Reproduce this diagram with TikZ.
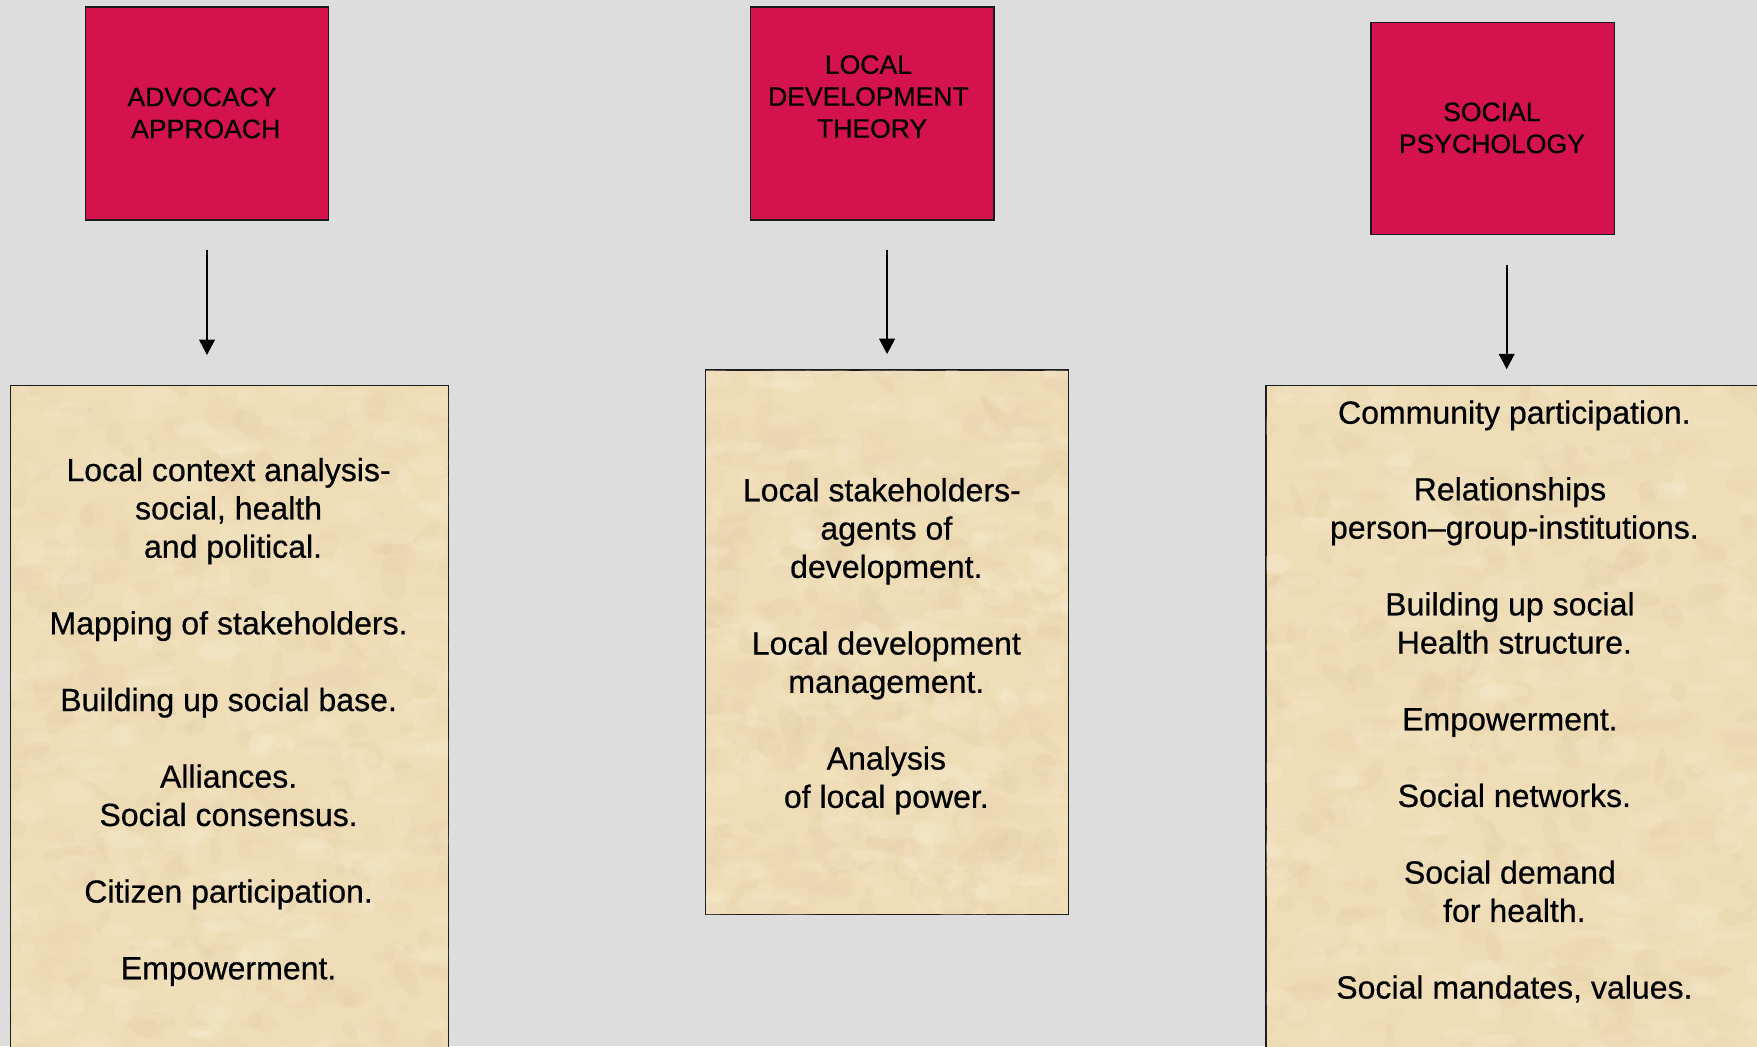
\documentclass[tikz,border=0pt]{standalone}
\usepackage{fontspec}
\setmainfont{Liberation Sans}[FakeBold=0.6]
\newfontfamily\itemfont{Liberation Sans}[FakeBold=0.6]
\usetikzlibrary{arrows.meta}
\definecolor{bg}{HTML}{DDDDDD}
\definecolor{crim}{HTML}{D4134E}
\definecolor{paper}{HTML}{EEDDB7}
\definecolor{paperdark}{HTML}{D6BD8E}
\definecolor{paperlight}{HTML}{FBF3DC}
\definecolor{paperpink}{HTML}{E8C9A8}
\definecolor{edge}{HTML}{1A1A1A}
\newcommand\paperspots[4]{%
  \foreach \k in {1,...,260}{%
    \fill[spotdark,rotate around={360*rnd:({#1+#3*rnd},{#2+#4*rnd})}] ({#1+#3*rnd},{#2+#4*rnd}) ellipse ({4+16*rnd} and {3+9*rnd});
    \fill[spotlight] ({#1+#3*rnd},{#2+#4*rnd}) ellipse ({4+18*rnd} and {3+10*rnd});
    \fill[spotpink] ({#1+#3*rnd},{#2+#4*rnd}) ellipse ({6+20*rnd} and {4+12*rnd});
  }}
\begin{document}
\begin{tikzpicture}[x=1pt,y=-1pt,
  redbox/.style={draw=edge,line width=1.3pt,fill=crim,inner sep=0,anchor=north west},
  paperbox/.style={draw=edge,line width=1.3pt,fill=paper,inner sep=0,anchor=north west},
  redtext/.style={align=center,inner sep=0,anchor=north,font=\fontsize{23.7pt}{28.5pt}\selectfont},
  itemtext/.style={align=center,inner sep=0,anchor=north,font=\itemfont\fontsize{28.6pt}{34.2pt}\selectfont},
  conn/.style={line width=1.5pt,draw=black,-{Triangle[width=14pt,length=13.7pt]}},
  spotdark/.style={fill=paperdark,fill opacity=0.10},
  spotlight/.style={fill=paperlight,fill opacity=0.16},
  spotpink/.style={fill=paperpink,fill opacity=0.07}]
\useasboundingbox (0,0) rectangle (1568,933.5);
\clip (0,0) rectangle (1568,933.5);
\fill[bg] (0,0) rectangle (1568,933.5);
\pgfmathsetseed{7}

% header boxes
\node[redbox,minimum width=216.6pt,minimum height=189.8pt] (r1) at (75.8,5.7) {};
\node[redbox,minimum width=217.1pt,minimum height=189.8pt] (r2) at (669.3,5.7) {};
\node[redbox,minimum width=217pt,minimum height=189.2pt] (r3) at (1223,19.6) {};

% paper boxes
\node[paperbox,minimum width=391pt,minimum height=620pt] (b1) at (8.8,343.6) {};
\node[paperbox,minimum width=324pt,minimum height=486pt] (b2) at (629,329.7) {};
\node[paperbox,minimum width=470pt,minimum height=620pt] (b3) at (1129,343.6) {};

\begin{scope}
  \clip ([shift={(1,1)}]b1.north west) rectangle ([shift={(-1,-1)}]b1.south east);
  \paperspots{0}{330}{420}{640}
\end{scope}
\begin{scope}
  \clip ([shift={(1,1)}]b2.north west) rectangle ([shift={(-1,-1)}]b2.south east);
  \paperspots{615}{315}{350}{515}
\end{scope}
\begin{scope}
  \clip ([shift={(1,1)}]b3.north west) rectangle ([shift={(-1,-1)}]b3.south east);
  \paperspots{1115}{330}{470}{640}
\end{scope}

% header texts
\node[redtext] (t1) at (183.6,78) {ADVOCACY\hspace*{.278em}\\APPROACH};
\node[redtext] (t2) at (775,49.1) {LOCAL\\DEVELOPMENT\\\hspace*{.278em}THEORY};
\node[redtext] (t3) at (1331.4,91.3) {SOCIAL\\PSYCHOLOGY};

% item texts
\node[itemtext] (i1) at (204,408.4) {Local context analysis-\\social, health\\\hspace*{.278em}and political.\\[34.2pt]
  Mapping of stakeholders.\\[34.2pt]
  Building up social base.\\[34.2pt]
  Alliances.\\Social consensus.\\[34.2pt]
  Citizen participation.\\[34.2pt]
  Empowerment.};
\node[itemtext] (i2) at (791,426.4) {Local stakeholders-\hspace*{.278em}\\agents of\\development.\\[34.2pt]
  Local development\\management.\\[34.2pt]
  Analysis\\of local power.};
\node[itemtext] (i3) at (1347.5,357.2) {\hspace*{.278em}Community participation.\\[34.2pt]
  Relationships\\\hspace*{.278em}person–group-institutions.\\[34.2pt]
  Building up social\\\hspace*{.278em}Health structure.\\[34.2pt]
  Empowerment.\\[34.2pt]
  \hspace*{.278em}Social networks.\\[34.2pt]
  Social demand\\\hspace*{.278em}for health.\\[34.2pt]
  \hspace*{.278em}Social mandates, values.};

% connectors
\coordinate (a3) at (1344.6,0);
\draw[conn,shorten <=26.1pt,shorten >=26.8pt] (r1.south) -- (r1.south |- b1.north);
\draw[conn,shorten <=26.1pt,shorten >=13.7pt] (b2.north |- r2.south) -- (b2.north);
\draw[conn,shorten <=26.2pt,shorten >=14.1pt] (a3 |- r3.south) -- (a3 |- b3.north);
\end{tikzpicture}
\end{document}
